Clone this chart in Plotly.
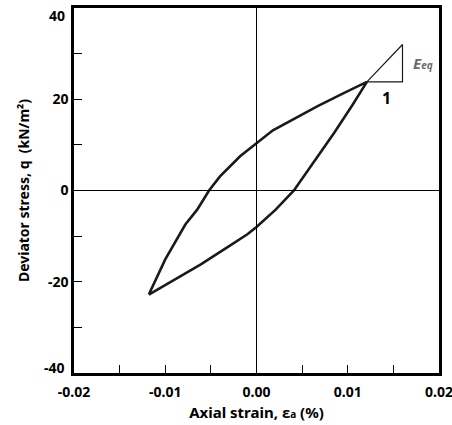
import plotly.graph_objects as go

# Hysteresis loop: loading branch (from minimum to peak)
load_strain = [-0.0118, -0.0090, -0.0061, -0.0030, -0.0010, 0.0, 0.0021, 0.0041, 0.0065, 0.0085, 0.0105, 0.0121]
load_q = [-22.8, -19.5, -16.2, -12.2, -9.6, -8.0, -4.2, 0.0, 6.9, 12.6, 18.7, 23.8]

# Unloading branch (from peak back to minimum)
unload_strain = [0.0121, 0.0095, 0.0067, 0.0018, 0.0, -0.0018, -0.0040, -0.0052, -0.0065, -0.0078, -0.0100, -0.0118]
unload_q = [23.8, 21.3, 18.5, 13.2, 10.45, 7.5, 3.1, 0.0, -4.2, -7.45, -15.1, -22.8]

# Slope triangle for the equivalent modulus
tri_strain = [0.0121, 0.0160, 0.0160, 0.0121]
tri_q = [23.8, 23.8, 32.0, 23.8]

x_ticks = [-0.02, -0.015, -0.01, -0.005, 0.0, 0.005, 0.01, 0.015, 0.02]
x_labels = ["-0.02", "", "-0.01", "", "0.00", "", "0.01", "", "0.02"]
y_ticks = [-40, -30, -20, -10, 0, 10, 20, 30, 40]
y_labels = ["", "", "-20", "", "0", "", "20", "", ""]
y_end_labels = {40: "40", -40: "-40"}

FONT = "Noto Sans, DejaVu Sans, sans-serif"

fig = go.Figure()
fig.add_trace(go.Scatter(x=load_strain + unload_strain[1:], y=load_q + unload_q[1:],
                         mode="lines", line=dict(color="#1a1a1a", width=2.6),
                         showlegend=False, hoverinfo="skip"))
fig.add_trace(go.Scatter(x=tri_strain, y=tri_q, mode="lines",
                         line=dict(color="#1a1a1a", width=1.2),
                         showlegend=False, hoverinfo="skip"))

# Zero reference lines
fig.add_hline(y=0, line=dict(color="black", width=1))
fig.add_vline(x=0, line=dict(color="black", width=1))

# End labels of the stress axis sit slightly inside the frame
for val, txt in y_end_labels.items():
    fig.add_annotation(x=0, xref="paper", y=val, yref="y", xanchor="right",
                       xshift=-7, yshift=-7 if val > 0 else 6, showarrow=False,
                       text="<b>%s</b>" % txt,
                       font=dict(family=FONT, size=14, color="black"))

fig.add_annotation(x=0.0182, y=28.0, xref="x", yref="y", showarrow=False,
                   text="<b><i>E<span style='font-size:10px'>eq</span></i></b>",
                   font=dict(family=FONT, size=15, color="#6b6b6b"))
fig.add_annotation(x=0.0142, y=20.2, xref="x", yref="y", showarrow=False,
                   text="<b>1</b>", font=dict(family=FONT, size=16, color="black"))

axis_common = dict(showline=True, linecolor="black", linewidth=2.5, mirror=True,
                   ticks="inside", ticklen=8, tickwidth=1, tickcolor="black",
                   showgrid=False, zeroline=False, automargin=False,
                   ticklabeloverflow="allow",
                   tickfont=dict(family=FONT, size=14, color="black"))

fig.update_xaxes(range=[-0.02, 0.02], tickmode="array", tickvals=x_ticks,
                 ticktext=["<b>%s</b>" % t if t else "" for t in x_labels],
                 ticklabelstandoff=4,
                 title=dict(text="<b>Axial strain, ɛ<span style='font-size:10px'>a</span> (%)</b>",
                            font=dict(family=FONT, size=15, color="black"), standoff=8),
                 **axis_common)
fig.update_yaxes(range=[-40, 40], tickmode="array", tickvals=y_ticks,
                 ticktext=["<b>%s</b>" % t if t else "" for t in y_labels],
                 title=dict(text="<b>Deviator stress, q&nbsp; (kN/m²)</b>",
                            font=dict(family=FONT, size=14, color="black"), standoff=16),
                 **axis_common)

fig.update_layout(width=452, height=425, margin=dict(l=74, r=13, t=8, b=52),
                  plot_bgcolor="white", paper_bgcolor="white",
                  font=dict(family=FONT, color="black"))

fig.write_html("out.html")
